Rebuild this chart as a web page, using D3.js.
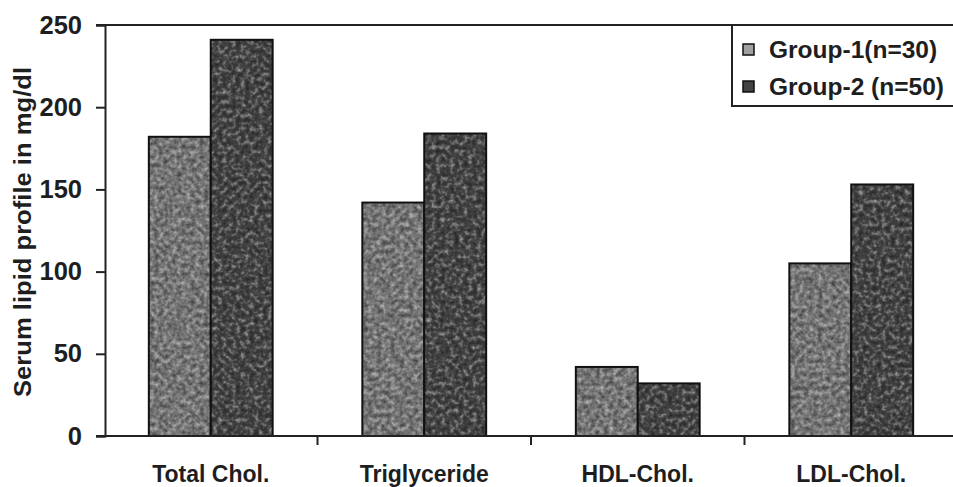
<!DOCTYPE html>
<html>
<head>
<meta charset="utf-8">
<script src="https://cdn.jsdelivr.net/npm/d3@7"></script>
<style>
  html, body { margin: 0; padding: 0; background: #fff; }
  svg { display: block; font-family: "Liberation Sans", Arial, sans-serif; }
</style>
</head>
<body>
<svg id="chart" width="953" height="487"></svg>
<script>
const categories = ["Total Chol.", "Triglyceride", "HDL-Chol.", "LDL-Chol."];
const seriesNames = ["Group-1(n=30)", "Group-2 (n=50)"];
const group1 = [182, 142, 42, 105];
const group2 = [241, 184, 32, 153];
const yTicks = [0, 50, 100, 150, 200, 250];
const yTitle = "Serum lipid profile in mg/dl";

const colors = ["#747474", "#424242"];

const svg = d3.select("#chart");
const margin = { left: 105, right: -5, top: 25, bottom: 51 };
const W = 953, H = 487;
const x0 = margin.left, x1 = W - margin.right, yTop = margin.top, yBot = H - margin.bottom;

const x = d3.scaleBand().domain(categories).range([x0 - 1, x1]).paddingInner(0.42).paddingOuter(0.21);
const xs = d3.scaleBand().domain(seriesNames).range([0, x.bandwidth()]);
const y = d3.scaleLinear().domain([0, 250]).range([yBot, yTop]);

const series = [group1, group2];

// soft grain texture filter (scanned look)
const defs = svg.append("defs");
const f = defs.append("filter").attr("id", "grain").attr("x", 0).attr("y", 0).attr("width", 1).attr("height", 1)
  .attr("color-interpolation-filters", "sRGB");
f.append("feTurbulence").attr("type", "fractalNoise").attr("baseFrequency", 0.22).attr("numOctaves", 2).attr("seed", 5).attr("result", "noise");
f.append("feColorMatrix").attr("in", "noise").attr("type", "matrix")
  .attr("values", "0.6 0 0 0 0.2  0.6 0 0 0 0.2  0.6 0 0 0 0.2  0 0 0 0 1").attr("result", "gray");
f.append("feGaussianBlur").attr("in", "gray").attr("stdDeviation", 0.6).attr("result", "grayb");
f.append("feBlend").attr("in", "SourceGraphic").attr("in2", "grayb").attr("mode", "overlay").attr("result", "blend");
f.append("feComposite").attr("in", "blend").attr("in2", "SourceGraphic").attr("operator", "in");

// top frame line
svg.append("line").attr("x1", x0 - 9).attr("x2", W).attr("y1", yTop).attr("y2", yTop)
  .attr("stroke", "#222").attr("stroke-width", 2);

// bars
const gBars = svg.append("g");
categories.forEach((c, i) => {
  series.forEach((s, j) => {
    gBars.append("rect")
      .attr("x", x(c) + xs(seriesNames[j]))
      .attr("y", y(s[i]))
      .attr("width", xs.bandwidth())
      .attr("height", y(0) - y(s[i]))
      .attr("fill", colors[j])
      .attr("filter", "url(#grain)");
    gBars.append("rect")
      .attr("x", x(c) + xs(seriesNames[j]))
      .attr("y", y(s[i]))
      .attr("width", xs.bandwidth())
      .attr("height", y(0) - y(s[i]))
      .attr("fill", "none")
      .attr("stroke", "#111")
      .attr("stroke-width", 2);
  });
});

// y axis
const yAxis = d3.axisLeft(y).tickValues(yTicks).tickSize(9).tickPadding(14);
const gy = svg.append("g").attr("transform", `translate(${x0},0)`).call(yAxis);
gy.select(".domain").attr("stroke", "#222").attr("stroke-width", 2);
gy.selectAll(".tick line").attr("stroke", "#222").attr("stroke-width", 2);
gy.selectAll(".tick text").attr("font-size", 25.5).attr("font-weight", "bold").attr("fill", "#1e1e1e");

// x axis (ticks at category boundaries)
const boundaries = categories.map(c => x(c) - x.step() * x.paddingOuter()).slice(1);
const gx = svg.append("g");
gx.append("line").attr("x1", x0 - 9).attr("x2", W).attr("y1", yBot).attr("y2", yBot)
  .attr("stroke", "#222").attr("stroke-width", 2);
gx.selectAll(".bt").data(boundaries).enter().append("line")
  .attr("x1", d => d).attr("x2", d => d).attr("y1", yBot).attr("y2", yBot + 9)
  .attr("stroke", "#222").attr("stroke-width", 2);
gx.selectAll(".cl").data(categories).enter().append("text")
  .attr("x", d => x(d) + x.bandwidth() / 2)
  .attr("y", 482)
  .attr("text-anchor", "middle")
  .attr("font-size", 23).attr("font-weight", "bold").attr("fill", "#1e1e1e")
  .text(d => d);

// y title
svg.append("text")
  .attr("transform", `translate(31,232) rotate(-90)`)
  .attr("text-anchor", "middle")
  .attr("font-size", 23).attr("font-weight", "bold").attr("fill", "#1e1e1e")
  .attr("textLength", 330).attr("lengthAdjust", "spacingAndGlyphs")
  .text(yTitle);

// legend
const lg = svg.append("g");
lg.append("rect").attr("x", 732).attr("y", yTop).attr("width", 240).attr("height", 81)
  .attr("fill", "#fff").attr("stroke", "#222").attr("stroke-width", 2);
const legendColors = ["#a0a0a0", "#424242"];
seriesNames.forEach((n, j) => {
  const cy = 49 + j * 37;
  lg.append("rect").attr("x", 743).attr("y", cy - 5).attr("width", 11).attr("height", 11)
    .attr("fill", legendColors[j]).attr("stroke", "#111").attr("stroke-width", 1.5);
  lg.append("text").attr("x", 769).attr("y", cy + 9)
    .attr("font-size", 24.5).attr("font-weight", "bold").attr("fill", "#1e1e1e").text(n);
});
</script>
</body>
</html>
